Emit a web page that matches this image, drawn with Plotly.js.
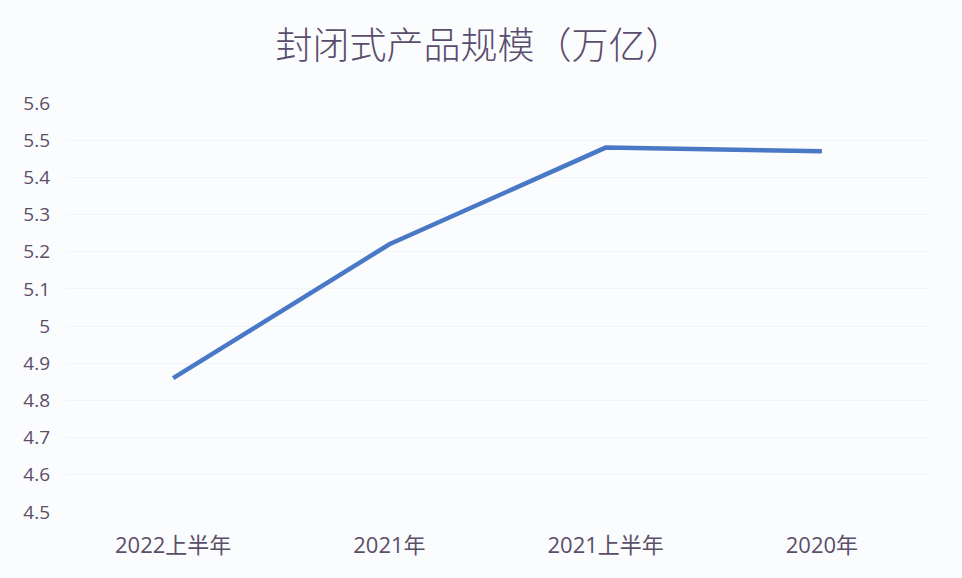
<!DOCTYPE html>
<html><head><meta charset="utf-8">
<script src="https://cdn.plot.ly/plotly-3.0.1.min.js"></script>
<style>html,body{margin:0;padding:0;background:#fbfcfe;}#c{width:962px;height:578px;}</style>
</head><body><div id="c"></div>
<script>
const categories = ['2022上半年', '2021年', '2021上半年', '2020年'];
const values = [4.86, 5.22, 5.48, 5.47];
const yTicks = [4.5, 4.6, 4.7, 4.8, 4.9, 5, 5.1, 5.2, 5.3, 5.4, 5.5, 5.6];
const yTickText = ['4.5','4.6','4.7','4.8','4.9','5','5.1','5.2','5.3','5.4','5.5','5.6'];

const textColor = '#5b4e68';
Plotly.newPlot('c', [{
  x: categories, y: values, type: 'scatter', mode: 'lines',
  line: {color: '#4878c6', width: 4.5}
}], {
  width: 962, height: 578,
  paper_bgcolor: '#fbfcfe', plot_bgcolor: '#fbfcfe',
  margin: {l: 65, r: 32, t: 103, b: 66},
  title: {text: '封闭式产品规模（万亿）', x: 0.498, xanchor: 'center', y: 0.92, yanchor: 'middle',
    font: {family: '"Noto Sans CJK SC", sans-serif', size: 37, color: '#5a4c6c', weight: 300}},
  xaxis: {type: 'category', range: [-0.5, 3.5], showgrid: false, zeroline: false, showline: false, ticks: '',
    ticklabelstandoff: 18,
    tickfont: {family: '"Open Sans", "Noto Sans CJK SC", sans-serif', size: 22, color: textColor}, automargin: false},
  yaxis: {range: [4.5, 5.6], tickvals: yTicks, ticktext: yTickText, showgrid: true, gridcolor: '#f3f4f8',
    zeroline: false, showline: false, ticks: '', ticklabelstandoff: 14,
    tickfont: {family: '"Open Sans", sans-serif', size: 19, color: textColor}, automargin: false},
  showlegend: false
}, {displayModeBar: false, staticPlot: true});
</script></body></html>
